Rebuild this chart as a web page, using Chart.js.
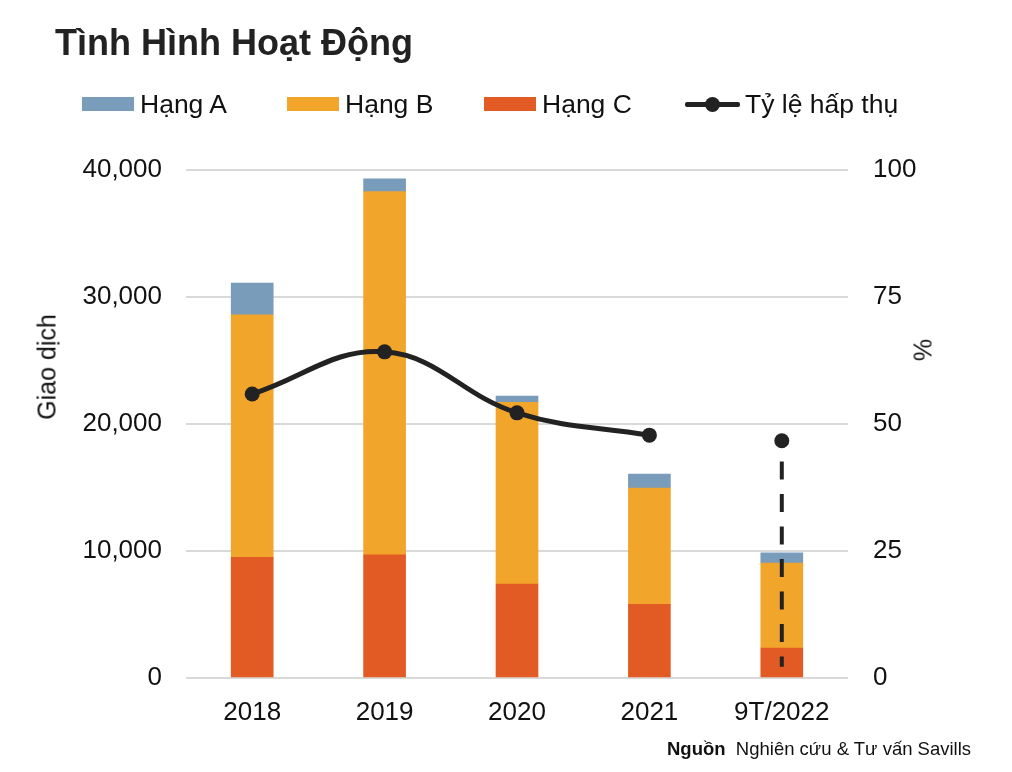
<!DOCTYPE html>
<html>
<head>
<meta charset="utf-8">
<script src="https://cdn.jsdelivr.net/npm/chart.js@4"></script>
<style>
  body { margin: 0; background: #fff; font-family: "Liberation Sans", Arial, sans-serif; color: #111; }
  #wrap { position: relative; width: 1012px; height: 772px; overflow: hidden; }
  #chart { position: absolute; left: 0; top: 0; }
  .title { position: absolute; left: 55px; top: 22px; font-size: 36px; font-weight: bold; color: #222; }
  .lg { position: absolute; top: 88px; font-size: 26.5px; line-height: 32px; white-space: nowrap; }
  .lg .box { position: absolute; top: 9px; width: 52px; height: 14px; }
  .lg .txt { position: absolute; top: 0; }
  .axt { position: absolute; font-size: 25px; white-space: nowrap; }
  .src { position: absolute; left: 667px; top: 738px; font-size: 18.5px; white-space: nowrap; }
</style>
</head>
<body>
<div id="wrap">
  <canvas id="chart" width="1012" height="772"></canvas>
  <div class="title">Tình Hình Hoạt Động</div>
  <div id="legend"></div>
  <div class="axt" style="left:47px; top:367px; transform: translate(-50%,-50%) rotate(-90deg);">Giao dịch</div>
  <div class="axt" style="left:922px; top:350px; transform: translate(-50%,-50%) rotate(90deg);">%</div>
  <div class="src"><b>Nguồn</b>&nbsp; Nghiên cứu &amp; Tư vấn Savills</div>
</div>
<script>
// --- data ---
const categories = ['2018', '2019', '2020', '2021', '9T/2022'];
const hangA = [2500, 1000, 500, 1100, 800];
const hangB = [19100, 28600, 14300, 9150, 6700];
const hangC = [9500, 9700, 7400, 5800, 2350];
const tyLe = [55.9, 64.2, 52.2, 47.8, null];
const tyLe2022 = [46.7, 2.2]; // dashed drop on 9T/2022
const leftTicks = [0, 10000, 20000, 30000, 40000];
const rightTicks = [0, 25, 50, 75, 100];

const colA = '#7a9cbb', colB = '#f2a52b', colC = '#e35b24', colLine = '#222222';
const FONT = '"Liberation Sans", Arial, sans-serif';

// --- legend (html) ---
const legendEl = document.getElementById('legend');
const legendItems = [
    { label: 'Hạng A', color: colA, x: 82 },
    { label: 'Hạng B', color: colB, x: 287 },
    { label: 'Hạng C', color: colC, x: 484 },
    { label: 'Tỷ lệ hấp thụ', color: colLine, x: 685, line: true }
];
legendItems.forEach(item => {
    const d = document.createElement('div');
    d.className = 'lg';
    d.style.left = item.x + 'px';
    if (item.line) {
        d.innerHTML = `<div style="position:absolute;top:14px;left:0;width:55px;height:5px;background:${item.color};border-radius:2px"></div>
            <div style="position:absolute;top:9px;left:20px;width:15px;height:15px;border-radius:50%;background:${item.color}"></div>
            <span class="txt" style="left:60px">${item.label}</span>`;
    } else {
        d.innerHTML = `<div class="box" style="left:0;background:${item.color}"></div><span class="txt" style="left:58px">${item.label}</span>`;
    }
    legendEl.appendChild(d);
});

// --- chart ---
const ctx = document.getElementById('chart');
new Chart(ctx, {
    data: {
        labels: categories,
        datasets: [
            { type: 'line', label: 'Tỷ lệ hấp thụ', data: tyLe, yAxisID: 'y1', borderColor: colLine, backgroundColor: colLine,
              borderWidth: 5, tension: 0.4, pointRadius: 7.5, pointBackgroundColor: colLine, pointBorderWidth: 0, order: 0 },
            { type: 'line', label: 'dash', data: [{ x: '9T/2022', y: tyLe2022[0] }, { x: '9T/2022', y: tyLe2022[1] }], yAxisID: 'y1',
              borderColor: colLine, backgroundColor: colLine, borderWidth: 4, borderDash: [18, 14.5], borderDashOffset: 11.8,
              pointRadius: [7.5, 0], pointBorderWidth: 0, order: 0 },
            { type: 'bar', label: 'Hạng C', data: hangC, backgroundColor: colC, yAxisID: 'y', stack: 's', barThickness: 42, order: 1 },
            { type: 'bar', label: 'Hạng B', data: hangB, backgroundColor: colB, yAxisID: 'y', stack: 's', barThickness: 42, order: 1 },
            { type: 'bar', label: 'Hạng A', data: hangA, backgroundColor: colA, yAxisID: 'y', stack: 's', barThickness: 42, order: 1 }
        ]
    },
    options: {
        responsive: false, animation: false, devicePixelRatio: 1,
        layout: { padding: { top: 170, bottom: 0, left: 0, right: 0 } },
        plugins: { legend: { display: false }, tooltip: { enabled: false } },
        scales: {
            x: {
                stacked: true,
                grid: { display: false, drawTicks: false },
                border: { display: false },
                ticks: { color: '#111', font: { family: FONT, size: 26 }, padding: 19 },
                afterFit: s => { s.height = 94; }
            },
            y: {
                stacked: true, position: 'left', min: 0, max: 40000,
                afterBuildTicks: s => { s.ticks = leftTicks.map(v => ({ value: v })); },
                grid: { color: '#d9d9d9', lineWidth: 2, drawTicks: false },
                border: { display: false },
                ticks: { color: '#111', font: { family: FONT, size: 26 }, padding: 24,
                         callback: v => v.toLocaleString('en-US') },
                afterFit: s => { s.width = 186; }
            },
            y1: {
                position: 'right', min: 0, max: 100,
                afterBuildTicks: s => { s.ticks = rightTicks.map(v => ({ value: v })); },
                grid: { display: false, drawTicks: false },
                border: { display: false },
                ticks: { color: '#111', font: { family: FONT, size: 26 }, padding: 25 },
                afterFit: s => { s.width = 1012 - 848; }
            }
        }
    }
});
</script>
</body>
</html>
